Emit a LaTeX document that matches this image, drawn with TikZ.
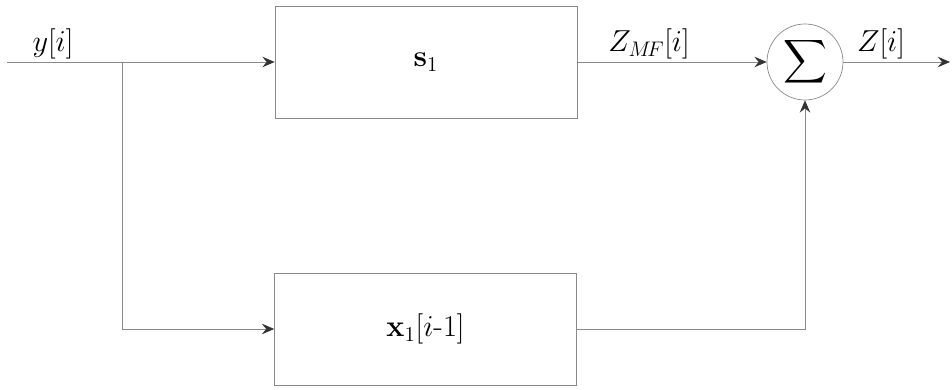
\documentclass[tikz,border=0pt]{standalone}
\usepackage{amsmath}
\usepackage{xcolor}
\usetikzlibrary{calc,arrows.meta}
\definecolor{wire}{HTML}{8A8A8A}

\begin{document}
\begin{tikzpicture}[>={Stealth[length=7pt,width=6pt,inset=2.5pt,color=black!80]},
  blk/.style={draw=wire,thin,minimum width=6.04cm,minimum height=2.24cm,inner sep=0pt},
  lbl/.style={font=\fontsize{18}{21}\selectfont},
  sig/.style={draw=wire,thin,->}]
  \useasboundingbox (0,0) rectangle (19.04,7.8);
  \coordinate (in) at (0.14,6.56);
  \coordinate (split) at (2.44,6.56);
  \coordinate (out) at (19.0,6.56);
  \node[blk,lbl] (filt) at (8.52,6.56) {$\mathbf{s}_1$};
  \node[blk,lbl] (prev) at (8.51,1.22) {$\mathbf{x}_1[i\text{-}1]$};
  \node[draw=wire,thin,circle,minimum size=1.52cm,inner sep=0pt] (sum) at (16.1,6.56)
    {\LARGE$\displaystyle\sum$};
  \draw[sig] (in)--(filt.west);
  \draw[sig] (split)|-(prev.west);
  \draw[sig] (filt.east)--(sum.west);
  \draw[sig] (prev.east)-|(sum.south);
  \draw[sig] (sum.east)--(out);
  \node[lbl] (ylab) at (1.06,6.92) {$y[i]$};
  \node[lbl] (zmf) at (12.98,6.92) {$Z_{M\!F}[i]$};
  \node[lbl] (zout) at (17.62,6.92) {$Z[i]$};
\end{tikzpicture}
\end{document}
